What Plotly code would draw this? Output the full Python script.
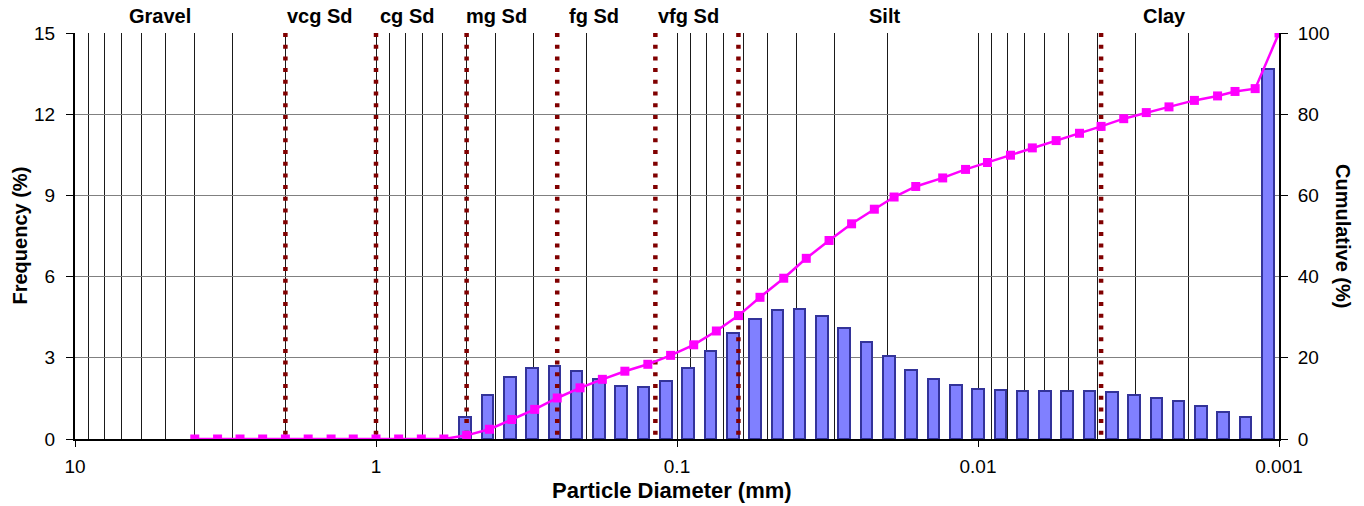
import math
import plotly.graph_objects as go

# ---------------- data ----------------
# cumulative curve: particle diameter (mm) and cumulative percent
diameter_mm = [4.0, 3.36, 2.83, 2.38, 2.0, 1.68, 1.41, 1.19, 1.0, 0.841, 0.707, 0.595,
               0.5, 0.42, 0.354, 0.297, 0.25, 0.21, 0.177, 0.149, 0.125, 0.105, 0.088, 0.074,
               0.0625, 0.053, 0.0442, 0.0372, 0.03125, 0.0263, 0.0221, 0.0190, 0.0161, 0.0131,
               0.011, 0.0093, 0.0078, 0.0066, 0.0055, 0.0046, 0.0039, 0.00328, 0.00276, 0.00232,
               0.00191, 0.0016, 0.0014, 0.0012, 0.001]
cumulative_pct = [0, 0, 0, 0, 0, 0, 0, 0, 0, 0, 0, 0,
                  0.9, 2.4, 4.8, 7.3, 10.1, 12.6, 14.7, 16.7, 18.4, 20.6, 23.2, 26.6,
                  30.4, 34.9, 39.6, 44.5, 48.9, 53.0, 56.6, 59.6, 62.2, 64.3,
                  66.4, 68.1, 69.9, 71.7, 73.5, 75.3, 77.0, 78.9, 80.4, 81.8,
                  83.4, 84.5, 85.6, 86.3, 100]

# frequency histogram: one bar per size-class category (54 categories)
bar_category = list(range(1, 55))
frequency_pct = [0, 0, 0, 0, 0, 0, 0, 0, 0, 0, 0, 0, 0, 0, 0, 0, 0,
                 0.81, 1.63, 2.28, 2.64, 2.70, 2.52, 2.22, 1.96, 1.92, 2.13,
                 2.62, 3.26, 3.91, 4.45, 4.76, 4.80, 4.55, 4.11, 3.58, 3.05,
                 2.55, 2.21, 1.98, 1.85, 1.80, 1.78, 1.79, 1.78, 1.76, 1.72,
                 1.64, 1.53, 1.39, 1.21, 1.01, 0.81, 13.67]

# grain-size class boundaries (mm) and class labels
class_boundaries_mm = [2.0, 1.0, 0.5, 0.25, 0.118, 0.0625, 0.0039]
class_labels = ["Gravel", "vcg Sd", "cg Sd", "mg Sd", "fg Sd", "vfg Sd", "Silt", "Clay"]
class_label_mm = [5.2, 1.53, 0.79, 0.397, 0.188, 0.0914, 0.0204, 0.0024]

x_ticks = [10, 1, 0.1, 0.01, 0.001]
x_tick_text = ["10", "1", "0.1", "0.01", "0.001"]
freq_ticks = [0, 3, 6, 9, 12, 15]
cum_ticks = [0, 20, 40, 60, 80, 100]

x_title = "Particle Diameter (mm)"
y_title = "Frequency (%)"
y2_title = "Cumulative (%)"

# ---------------- figure ----------------
FONT = "Liberation Sans, Arial, sans-serif"
minor_grid = [m * 10.0 ** e for e in range(-3, 1) for m in range(2, 10)]

fig = go.Figure()

fig.add_trace(go.Bar(
    x=bar_category, y=frequency_pct, xaxis="x", yaxis="y", width=0.52,
    marker=dict(color="#8080FF",
                line=dict(color="#333399",
                          width=[0 if v == 0 else 2 for v in frequency_pct])),
    name="Frequency", showlegend=False))

bx, by = [], []
for b in class_boundaries_mm:
    bx += [b, b, None]
    by += [15, 0, None]
fig.add_trace(go.Scatter(
    x=bx, y=by, xaxis="x2", yaxis="y", mode="lines",
    line=dict(color="#800000", width=4.5, dash="4px,7.7px"),
    hoverinfo="skip", showlegend=False))

fig.add_trace(go.Scatter(
    x=diameter_mm, y=cumulative_pct, xaxis="x2", yaxis="y2", mode="lines+markers",
    line=dict(color="#FF00FF", width=2.5),
    marker=dict(symbol="square", size=9, color="#FF00FF"),
    name="Cumulative", showlegend=False))

for lab, xv in zip(class_labels, class_label_mm):
    fig.add_annotation(
        text=lab, xref="x2", x=math.log10(xv), yref="paper", y=1,
        yanchor="middle", yshift=17, showarrow=False,
        font=dict(family=FONT, size=20, color="black", weight="bold"))

tickfont = dict(family=FONT, size=19, color="black")
ytitlefont = dict(family=FONT, size=20, color="black", weight="bold")
xtitlefont = dict(family=FONT, size=22, color="black", weight="bold")

# axis titles
fig.add_annotation(text=x_title, xref="paper", x=0.5, xshift=-5,
                   yref="paper", y=0, yshift=-51, yanchor="middle",
                   showarrow=False, font=xtitlefont)
fig.add_annotation(text=y_title, xref="paper", x=0, xshift=-55.5,
                   yref="paper", y=0.5, xanchor="center", yanchor="middle",
                   textangle=-90, showarrow=False, font=ytitlefont)
fig.add_annotation(text=y2_title, xref="paper", x=1, xshift=64,
                   yref="paper", y=0.5, xanchor="center", yanchor="middle",
                   textangle=90, showarrow=False, font=ytitlefont)

fig.update_layout(
    width=1364, height=506,
    margin=dict(l=75, r=85, t=33, b=67, pad=0, autoexpand=False),
    paper_bgcolor="white", plot_bgcolor="white",
    showlegend=False,
    bargap=0,
    xaxis=dict(type="linear", range=[0.5, 54.5], visible=False, fixedrange=True,
               automargin=False),
    xaxis2=dict(
        type="log", range=[1, -3], overlaying="x", anchor="y", side="bottom",
        tickmode="array", tickvals=x_ticks, ticktext=x_tick_text,
        ticks="outside", ticklen=6, tickwidth=1, tickcolor="black",
        showline=True, linecolor="black", linewidth=2,
        showgrid=True, gridcolor="#1a1a1a", gridwidth=1, zeroline=False,
        minor=dict(tickmode="array", tickvals=minor_grid, showgrid=True,
                   gridcolor="#1a1a1a", gridwidth=1, ticks=""),
        tickfont=tickfont, ticklabelstandoff=3, automargin=False,
    ),
    yaxis=dict(
        range=[0, 15], tickmode="array", tickvals=freq_ticks,
        ticks="outside", ticklen=7, tickcolor="black",
        showline=True, linecolor="black", linewidth=2,
        showgrid=True, gridcolor="#808080", gridwidth=1, zeroline=False,
        tickfont=tickfont, ticklabelstandoff=7, automargin=False,
    ),
    yaxis2=dict(
        range=[0, 100], tickmode="array", tickvals=cum_ticks,
        overlaying="y", side="right", anchor="x",
        ticks="outside", ticklen=7, tickcolor="black",
        showline=True, linecolor="black", linewidth=2,
        showgrid=False, zeroline=False,
        tickfont=tickfont, ticklabelstandoff=6, automargin=False,
    ),
)

fig.write_html("out.html", config={"displayModeBar": False},
               post_script="document.body.style.margin='0px';")
